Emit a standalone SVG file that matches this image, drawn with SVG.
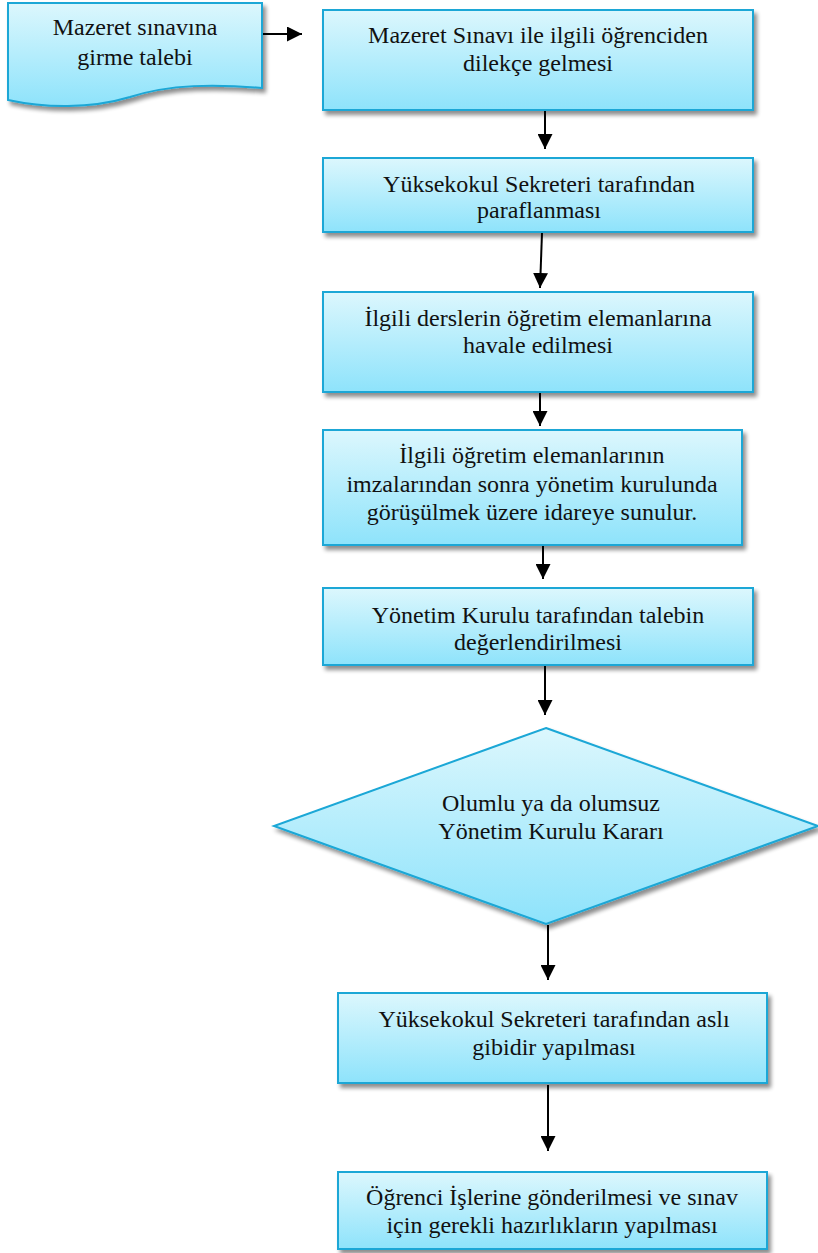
<svg xmlns="http://www.w3.org/2000/svg" width="818" height="1253" viewBox="0 0 818 1253">
<defs>
<linearGradient id="g" x1="0" y1="0" x2="0" y2="1">
<stop offset="0" stop-color="#dcf7fd"/>
<stop offset="1" stop-color="#8ee3fb"/>
</linearGradient>
<filter id="sh" x="-5%" y="-5%" width="115%" height="130%">
<feGaussianBlur in="SourceAlpha" stdDeviation="2"/>
<feOffset dx="3" dy="4" result="b"/>
<feComponentTransfer><feFuncA type="linear" slope="0.45"/></feComponentTransfer>
<feMerge><feMergeNode/><feMergeNode in="SourceGraphic"/></feMerge>
</filter>
<marker id="ah" viewBox="0 0 15 15" refX="15" refY="7.5" markerWidth="15" markerHeight="15" markerUnits="userSpaceOnUse" orient="auto">
<path d="M0,0 L15,7.5 L0,15 Z" fill="#000"/>
</marker>
</defs>
<style>
.n{fill:url(#g);stroke:#1aa7d6;stroke-width:2;filter:url(#sh)}
.t{font-size:24px;fill:#111;text-anchor:middle}
.c{stroke:#000;stroke-width:2;fill:none;marker-end:url(#ah)}
</style>
<rect width="818" height="1253" fill="#fff"/>
<g id="connectors">
<path class="c" d="M262,34 L302,34"/>
<path class="c" d="M545,110 L545,149"/>
<path class="c" d="M542,233 L540,288"/>
<path class="c" d="M540,393 L540,426"/>
<path class="c" d="M543,546 L543,579"/>
<path class="c" d="M545,666 L545,715"/>
<path class="c" d="M548,925 L548,980"/>
<path class="c" d="M548,1085 L548,1151"/>
</g>
<g font-family="'Liberation Serif', 'Times New Roman', Times, serif">
<g id="n0">
<path class="n" d="M8,3 L262,3 L262,88 C215,84 170,84 130,97 C90,109 45,108 8,100 Z"/>
<text class="t" x="135" y="35">Mazeret sınavına</text>
<text class="t" x="135" y="65">girme talebi</text>
</g>
<g id="n1">
<rect class="n" x="323" y="10" width="430" height="100"/>
<text class="t" x="538" y="43">Mazeret Sınavı ile ilgili öğrenciden</text>
<text class="t" x="538" y="71">dilekçe gelmesi</text>
</g>
<g id="n2">
<rect class="n" x="323" y="158" width="430" height="74"/>
<text class="t" x="539" y="192">Yüksekokul Sekreteri tarafından</text>
<text class="t" x="539" y="218">paraflanması</text>
</g>
<g id="n3">
<rect class="n" x="323" y="292" width="430" height="100"/>
<text class="t" x="538" y="326">İlgili derslerin öğretim elemanlarına</text>
<text class="t" x="538" y="353">havale edilmesi</text>
</g>
<g id="n4">
<rect class="n" x="323" y="430" width="419" height="115"/>
<text class="t" x="532" y="463">İlgili öğretim elemanlarının</text>
<text class="t" x="532" y="492">imzalarından sonra yönetim kurulunda</text>
<text class="t" x="532" y="520">görüşülmek üzere idareye sunulur.</text>
</g>
<g id="n5">
<rect class="n" x="323" y="588" width="430" height="77"/>
<text class="t" x="538" y="623">Yönetim Kurulu tarafından talebin</text>
<text class="t" x="538" y="650">değerlendirilmesi</text>
</g>
<g id="n6">
<path class="n" d="M546,728 L818,826 L546,924 L274,826 Z"/>
<text class="t" x="551" y="811">Olumlu ya da olumsuz</text>
<text class="t" x="551" y="839">Yönetim Kurulu Kararı</text>
</g>
<g id="n7">
<rect class="n" x="338" y="993" width="429" height="90"/>
<text class="t" x="554" y="1027">Yüksekokul Sekreteri tarafından aslı</text>
<text class="t" x="554" y="1055">gibidir yapılması</text>
</g>
<g id="n8">
<rect class="n" x="338" y="1172" width="429" height="77"/>
<text class="t" x="552" y="1205">Öğrenci İşlerine gönderilmesi ve sınav</text>
<text class="t" x="552" y="1233">için gerekli hazırlıkların yapılması</text>
</g>
</g>
</svg>
